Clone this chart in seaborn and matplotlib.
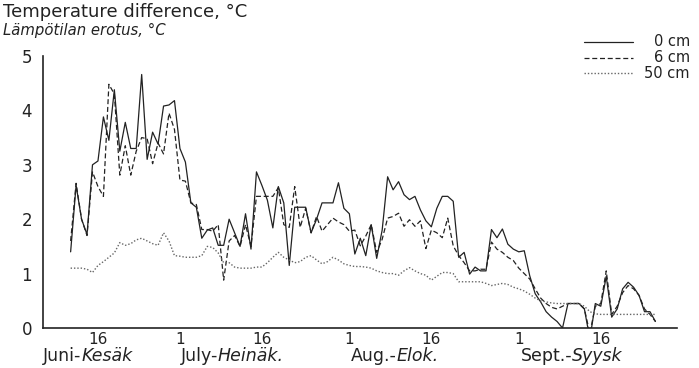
import matplotlib
matplotlib.use("Agg")
import matplotlib.pyplot as plt
import seaborn as sns
import pandas as pd
from matplotlib.lines import Line2D

# day number counted from 1 June (= 0); daily readings 11 June .. 27 Sept
days = list(range(10, 118))

temp_0cm = [
    1.40, 2.62, 2.00, 1.72, 3.00, 3.07, 3.88, 3.45, 4.38, 3.25,
    3.78, 3.30, 3.30, 4.66, 3.10, 3.60, 3.38, 4.08, 4.10, 4.18,
    3.30, 3.05, 2.30, 2.22, 1.65, 1.80, 1.84, 1.52, 1.52, 2.00,
    1.75, 1.50, 2.10, 1.45, 2.87, 2.62, 2.35, 1.84, 2.60, 2.30,
    1.15, 2.22, 2.22, 2.22, 1.75, 2.00, 2.30, 2.30, 2.30, 2.67,
    2.20, 2.10, 1.36, 1.65, 1.33, 1.90, 1.28, 1.80, 2.78, 2.54,
    2.69, 2.45, 2.36, 2.42, 2.17, 1.97, 1.86, 2.20, 2.42, 2.42,
    2.33, 1.30, 1.39, 0.99, 1.12, 1.05, 1.05, 1.81, 1.66, 1.82,
    1.54, 1.45, 1.40, 1.42, 0.96, 0.63, 0.48, 0.30, 0.20, 0.12,
    0.00, 0.45, 0.45, 0.45, 0.35, -0.20, 0.45, 0.40, 0.95, 0.20,
    0.35, 0.72, 0.84, 0.75, 0.60, 0.30, 0.30, 0.12,
]
temp_6cm = [
    1.60, 2.66, 2.00, 1.70, 2.87, 2.60, 2.42, 4.48, 4.30, 2.81,
    3.35, 2.81, 3.25, 3.50, 3.48, 3.02, 3.40, 3.20, 3.95, 3.65,
    2.72, 2.70, 2.30, 2.27, 1.81, 1.81, 1.78, 1.90, 0.88, 1.60,
    1.70, 1.50, 1.90, 1.50, 2.42, 2.42, 2.42, 2.42, 2.58, 1.90,
    1.85, 2.60, 1.85, 2.20, 1.75, 2.05, 1.78, 1.90, 2.02, 1.95,
    1.90, 1.78, 1.80, 1.51, 1.69, 1.90, 1.39, 1.63, 2.02, 2.05,
    2.11, 1.87, 1.99, 1.87, 1.97, 1.46, 1.80, 1.75, 1.66, 2.02,
    1.51, 1.33, 1.20, 1.05, 1.05, 1.08, 1.08, 1.58, 1.45, 1.39,
    1.30, 1.24, 1.10, 1.00, 0.90, 0.72, 0.55, 0.45, 0.38, 0.35,
    0.40, 0.45, 0.45, 0.45, 0.35, -0.10, 0.40, 0.45, 1.05, 0.25,
    0.40, 0.65, 0.78, 0.72, 0.60, 0.35, 0.25, 0.12,
]
temp_50cm = [
    1.10, 1.10, 1.10, 1.08, 1.02, 1.15, 1.22, 1.30, 1.38, 1.57,
    1.52, 1.55, 1.62, 1.65, 1.60, 1.55, 1.52, 1.75, 1.60, 1.33,
    1.32, 1.30, 1.30, 1.30, 1.33, 1.50, 1.48, 1.38, 1.20, 1.20,
    1.12, 1.10, 1.10, 1.10, 1.12, 1.12, 1.20, 1.30, 1.39, 1.30,
    1.25, 1.20, 1.22, 1.30, 1.33, 1.25, 1.18, 1.22, 1.30, 1.25,
    1.18, 1.15, 1.13, 1.13, 1.12, 1.10, 1.05, 1.02, 1.00, 1.00,
    0.97, 1.05, 1.11, 1.05, 1.00, 0.97, 0.88, 0.95, 1.02, 1.02,
    1.00, 0.85, 0.85, 0.85, 0.85, 0.85, 0.82, 0.78, 0.80, 0.82,
    0.80, 0.75, 0.72, 0.68, 0.62, 0.55, 0.50, 0.48, 0.46, 0.45,
    0.45, 0.45, 0.45, 0.45, 0.40, 0.30, 0.26, 0.25, 0.25, 0.25,
    0.25, 0.25, 0.25, 0.25, 0.25, 0.25, 0.25, 0.25,
]

depth_labels = ["0 cm", "6 cm", "50 cm"]
tick_days = [15, 30, 45, 61, 76, 92, 107, 121]
tick_labels = ["16", "1", "16", "1", "16", "1", "16", ""]
month_start = [4.9, 30.1, 61.2, 92.3]
month_plain = ["Juni-", "July-", "Aug.-", "Sept.-"]
month_italic = ["Kesäk", "Heinäk.", "Elok.", "Syysk"]
title = "Temperature difference, °C"
subtitle = "Lämpötilan erotus, °C"

sns.set_style("white")
plt.rcParams["font.family"] = ["DejaVu Sans"]
INK = "#222222"

W, H = 699, 368
fig = plt.figure(figsize=(W / 100, H / 100), dpi=100)
ax = fig.add_axes([43.3 / W, 1 - 328 / H, (677.3 - 43.3) / W, (328 - 56) / H])

df = pd.DataFrame({"day": days, "0 cm": temp_0cm, "6 cm": temp_6cm, "50 cm": temp_50cm})
styles = {
    "0 cm": dict(color=INK, linestyle="-", linewidth=0.9),
    "6 cm": dict(color=INK, linestyle=(0, (4, 2.2)), linewidth=0.9),
    "50 cm": dict(color="#666666", linestyle=(0, (1, 1.4)), linewidth=1.0),
}
for lab in depth_labels:
    sns.lineplot(data=df, x="day", y=lab, ax=ax, estimator=None, **styles[lab])

ax.set_xlim(5, 121)
ax.set_ylim(0, 5)
ax.set_xticks(tick_days)
ax.set_xticklabels(tick_labels)
ax.set_yticks(range(6))
ax.set_xlabel("")
ax.set_ylabel("")
ax.tick_params(axis="x", direction="in", length=4, width=1, labelsize=11, pad=3, colors=INK)
ax.tick_params(axis="y", direction="in", length=4, width=1, labelsize=12, pad=8, colors=INK)
for s in ["top", "right"]:
    ax.spines[s].set_visible(False)
for s in ["left", "bottom"]:
    ax.spines[s].set_linewidth(1.2)
    ax.spines[s].set_color(INK)

trans = ax.get_xaxis_transform()
for x0, p, it in zip(month_start, month_plain, month_italic):
    t = ax.text(x0, -(356 - 328) / (328 - 56), p, transform=trans, ha="left",
                va="center", fontsize=12.5, color=INK)
    ax.annotate(it, xy=(1, 0), xycoords=t, ha="left", va="bottom",
                fontsize=12.5, style="italic", color=INK)

fig.text(3 / W, 1 - 12 / H, title, fontsize=13, va="center", ha="left", color=INK)
fig.text(3 / W, 1 - 30 / H, subtitle, fontsize=10.7, style="italic", va="center",
         ha="left", color=INK)

# legend drawn by hand: short line samples with right-aligned labels
for i, lab in enumerate(depth_labels):
    yc = 1 - (42 + 15.5 * i) / H
    fig.add_artist(Line2D([584 / W, 633 / W], [yc, yc], transform=fig.transFigure,
                          **styles[lab]))
    fig.text(690 / W, yc, lab, ha="right", va="center", fontsize=10.5, color=INK)

fig.savefig("out.png", dpi=100)
